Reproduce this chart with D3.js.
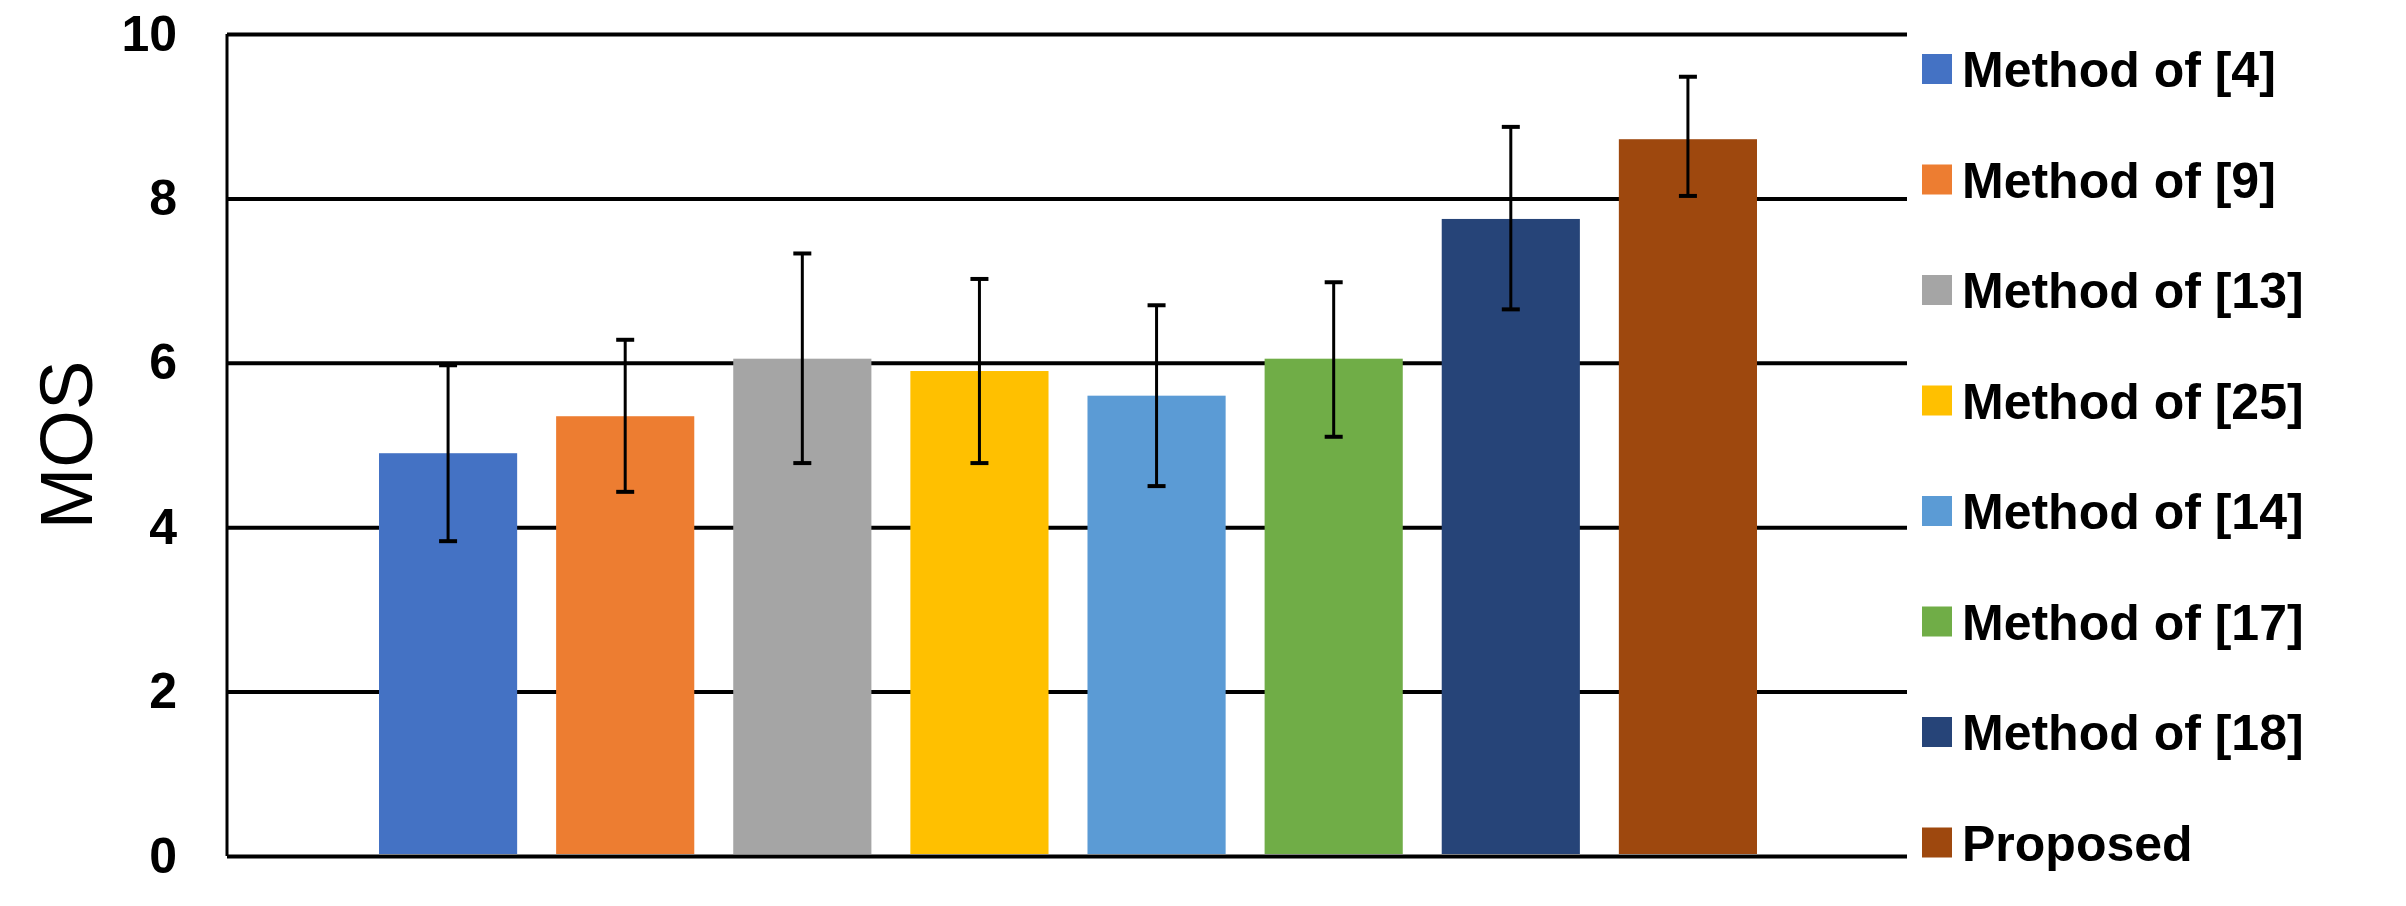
<!DOCTYPE html>
<html>
<head>
<meta charset="utf-8">
<script src="https://cdn.jsdelivr.net/npm/d3@7"></script>
<style>
	body { margin: 0; background: #fff; }
	text { font-family: "Liberation Sans", Arial, sans-serif; }
</style>
</head>
<body>
<svg id="chart" width="2406" height="906"></svg>
<script>

// DATA
// =============================================

var methods = ["Method of [4]", "Method of [9]", "Method of [13]", "Method of [25]", "Method of [14]", "Method of [17]", "Method of [18]", "Proposed"];
var mos = [4.9, 5.35, 6.05, 5.9, 5.6, 6.05, 7.75, 8.72];
var errLow = [3.83, 4.43, 4.78, 4.78, 4.5, 5.1, 6.65, 8.03];
var errHigh = [5.97, 6.28, 7.33, 7.02, 6.7, 6.98, 8.87, 9.48];
var colors = ["#4472c4", "#ed7d31", "#a5a5a5", "#ffc000", "#5b9bd5", "#70ad47", "#264478", "#9e480e"];
var yTicks = [0, 2, 4, 6, 8, 10];


// SETUP
// =============================================

var svg = d3.select("#chart");
var plot = { left: 227, right: 1907, top: 34, bottom: 856 };

var x = d3.scaleBand().domain(methods).range([379, 1757]).paddingInner(0.22);
var y = d3.scaleLinear().domain([0, 10]).range([plot.bottom, plot.top]);


// GRID + AXIS
// =============================================

var yAxis = d3.axisLeft(y).tickValues(yTicks).tickSize(-(plot.right - plot.left)).tickPadding(50);
var axisG = svg.append("g").attr("transform", "translate(" + plot.left + ",0)").call(yAxis);
axisG.select(".domain").remove();
axisG.selectAll(".tick line").attr("stroke", "#000").attr("stroke-width", 4);
axisG.selectAll(".tick text").attr("font-size", 50).attr("font-weight", "bold").attr("fill", "#000");

// Vertical axis line at the left edge
svg.append("line")
	.attr("x1", plot.left).attr("x2", plot.left)
	.attr("y1", plot.top).attr("y2", plot.bottom)
	.attr("stroke", "#000").attr("stroke-width", 3);

svg.append("text")
	.attr("transform", "translate(92," + ((plot.top + plot.bottom) / 2) + ") rotate(-90)")
	.attr("text-anchor", "middle")
	.attr("font-size", 74)
	.text("MOS");


// BARS + ERROR BARS
// =============================================

svg.append("g").selectAll("rect").data(methods).join("rect")
	.attr("x", function(d) { return x(d); })
	.attr("width", x.bandwidth())
	.attr("y", function(d, i) { return y(mos[i]); })
	.attr("height", function(d, i) { return plot.bottom - y(mos[i]) - 2; })
	.attr("fill", function(d, i) { return colors[i]; });

var err = svg.append("g").attr("stroke", "#000").attr("stroke-width", 3);
methods.forEach(function(d, i) {
	var cx = x(d) + x.bandwidth() / 2;
	err.append("line").attr("x1", cx).attr("x2", cx).attr("y1", y(errLow[i])).attr("y2", y(errHigh[i]));
	[errLow[i], errHigh[i]].forEach(function(v) {
		err.append("line").attr("x1", cx - 9).attr("x2", cx + 9).attr("y1", y(v)).attr("y2", y(v)).attr("stroke-width", 4);
	});
});


// LEGEND
// =============================================

var legend = svg.append("g").selectAll("g").data(methods).join("g")
	.attr("transform", function(d, i) { return "translate(1922," + (69 + i * 110.5) + ")"; });

legend.append("rect").attr("x", 0).attr("y", -15).attr("width", 30).attr("height", 30)
	.attr("fill", function(d, i) { return colors[i]; });
legend.append("text").attr("x", 40).attr("dy", "0.36em")
	.attr("font-size", 50).attr("font-weight", "bold").attr("fill", "#000")
	.text(function(d) { return d; });

</script>
</body>
</html>
